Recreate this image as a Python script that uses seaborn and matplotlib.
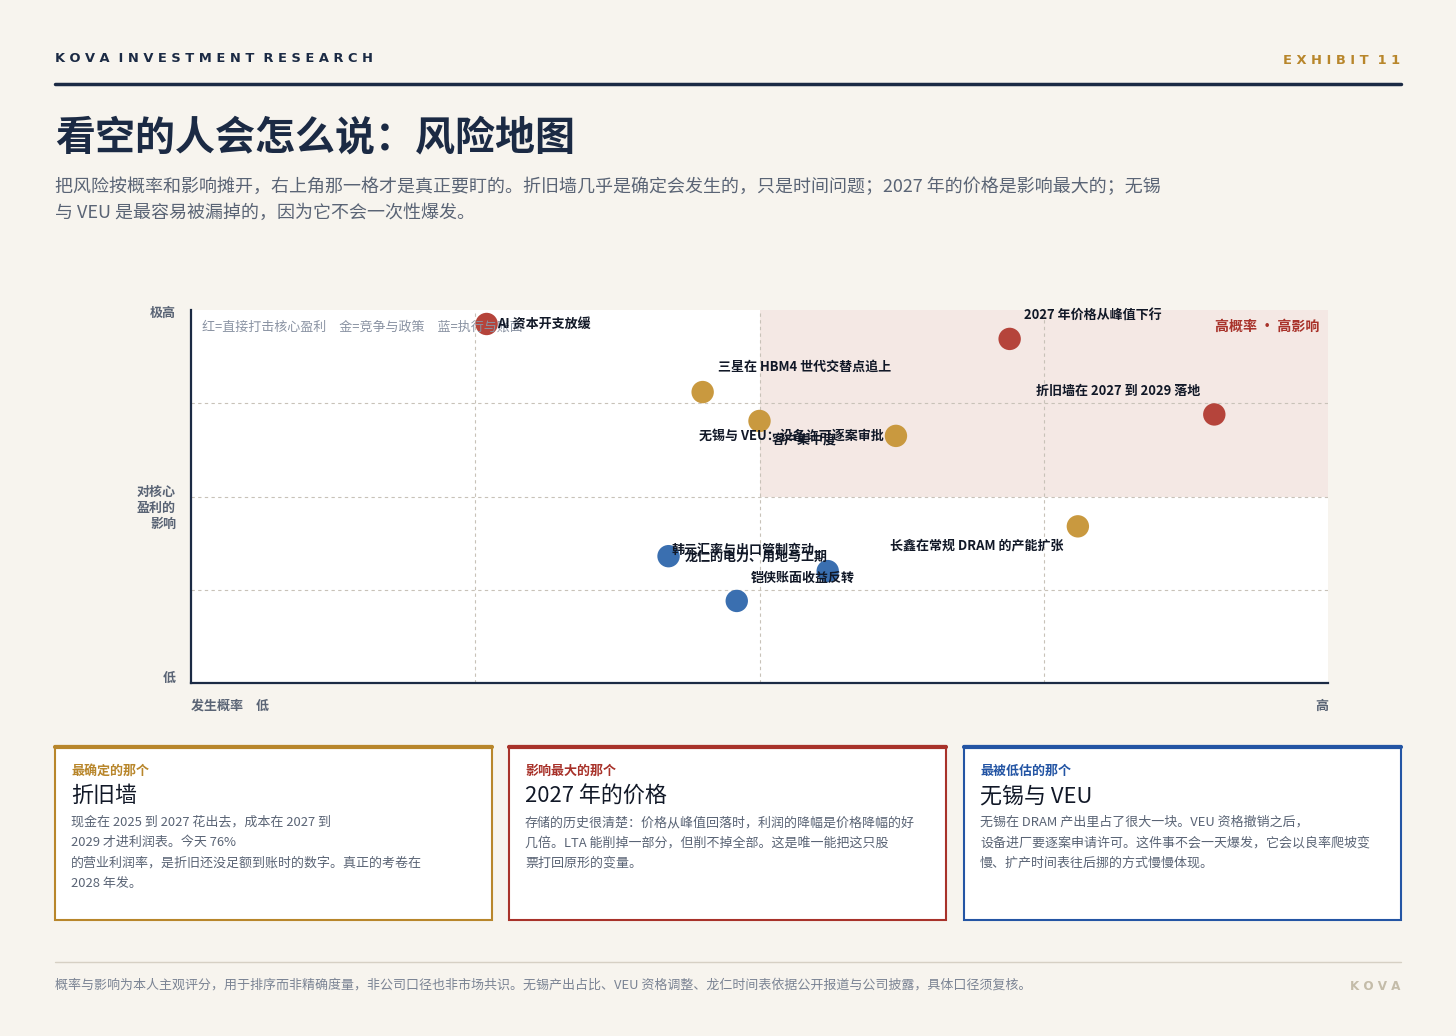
import pandas as pd
import matplotlib.pyplot as plt
import matplotlib.patches as mpatches
import seaborn as sns

# --- data (probability 0-4, impact 0-4) ---
risks = ['AI 资本开支放缓', '2027 年价格从峰值下行', '折旧墙在 2027 到 2029 落地',
         '三星在 HBM4 世代交替点追上', '客户集中度', '无锡与 VEU：设备许可逐案审批',
         '长鑫在常规 DRAM 的产能扩张', '韩元汇率与出口管制变动', '铠侠账面收益反转',
         '龙仁的电力、用地与工期']
probability = [1.04, 2.88, 3.60, 1.80, 2.00, 2.48, 3.12, 1.68, 2.24, 1.92]
impact = [3.85, 3.69, 2.88, 3.12, 2.81, 2.65, 1.68, 1.36, 1.20, 0.88]
group = ['red', 'red', 'red', 'gold', 'gold', 'gold', 'gold', 'blue', 'blue', 'blue']
# label offsets in pixels (dx, dy up), alignment
label_off = [(10, 0, 'left'), (83, 24, 'center'), (-96, 24, 'center'), (102, 25, 'center'),
             (45, -19, 'center'), (-12, 0, 'right'), (-101, -19, 'center'),
             (74, 7, 'center'), (-25, -7, 'center'), (19, 44, 'center')]

BG = '#f7f4ee'
NAVY = '#1b2a44'
GRAY = '#5a6475'
palette = {'red': '#b5443b', 'gold': '#c9993f', 'blue': '#3a6fb0'}

sns.set_theme(style='white')
plt.rcParams['font.family'] = ['Noto Sans CJK SC', 'DejaVu Sans']

W, H = 1456, 1036
fig = plt.figure(figsize=(W / 100, H / 100), dpi=100, facecolor=BG)

def P(x, y):
    return x / W, 1 - y / H

def fs(px):
    return px * 0.72

# header
fig.text(*P(55, 59), '  '.join(' '.join(w) for w in 'KOVA INVESTMENT RESEARCH'.split()),
         fontsize=fs(13), fontweight='bold', color=NAVY, va='center', family='DejaVu Sans')
fig.text(*P(1400, 60), ' '.join('EXHIBIT') + '  1 1', fontsize=fs(13), fontweight='bold',
         color='#b8862b', va='center', ha='right', family='DejaVu Sans')
fig.add_artist(plt.Line2D([55 / W, 1401 / W], [1 - 84 / H] * 2, color=NAVY, lw=2.5))
fig.text(*P(55, 138), '看空的人会怎么说：风险地图', fontsize=fs(40), fontweight='bold',
         color=NAVY, va='center')
fig.text(*P(55, 200), '把风险按概率和影响摊开，右上角那一格才是真正要盯的。折旧墙几乎是确定会发生的，只是时间问题；2027 年的价格是影响最大的；无锡\n与 VEU 是最容易被漏掉的，因为它不会一次性爆发。',
         fontsize=fs(18), color=GRAY, va='center', linespacing=1.55)

# chart
ax = fig.add_axes([191 / W, 1 - 683 / H, 1137 / W, 373 / H])
ax.set_facecolor('white')
ax.set_xlim(0, 4)
ax.set_ylim(0, 4)
ax.add_patch(mpatches.Rectangle((2, 2), 2, 2, color='#f4e8e4', zorder=0, lw=0))
for v in (1, 2, 3):
    ax.axvline(v, color='#c8c2b8', ls=(0, (3, 3)), lw=0.8, zorder=1)
    ax.axhline(v, color='#c8c2b8', ls=(0, (3, 3)), lw=0.8, zorder=1)
df = pd.DataFrame({'risk': risks, 'p': probability, 'i': impact, 'g': group})
sns.scatterplot(data=df, x='p', y='i', hue='g', palette=palette, s=260, edgecolor='none',
                legend=False, ax=ax, zorder=3)
for r, x, y, (dx, dy, ha) in zip(risks, probability, impact, label_off):
    ax.annotate(r, (x, y), xytext=(dx * 0.72, dy * 0.72), textcoords='offset points',
                ha=ha, va='center', fontsize=fs(13), fontweight='bold', color='#111827', zorder=4)
ax.text(0.01, 0.955, '红=直接打击核心盈利　金=竞争与政策　蓝=执行与账面', transform=ax.transAxes,
        fontsize=fs(13), color='#8a93a3', va='center')
ax.text(0.992, 0.955, '高概率 · 高影响', transform=ax.transAxes, fontsize=fs(14),
        fontweight='bold', color='#a8322a', va='center', ha='right')
ax.set_xticks([])
ax.set_yticks([])
ax.set_xlabel('')
ax.set_ylabel('')
sns.despine(ax=ax)
for s in ('left', 'bottom'):
    ax.spines[s].set_color(NAVY)
    ax.spines[s].set_linewidth(1.6)
fig.text(*P(176, 313), '极高', fontsize=fs(13), fontweight='bold', color=GRAY, ha='right', va='center')
fig.text(*P(176, 508), '对核心\n盈利的\n影响', fontsize=fs(13), fontweight='bold', color=GRAY,
         ha='right', va='center', linespacing=1.15)
fig.text(*P(176, 678), '低', fontsize=fs(13), fontweight='bold', color=GRAY, ha='right', va='center')
fig.text(*P(191, 706), '发生概率　低', fontsize=fs(13), fontweight='bold', color=GRAY, va='center')
fig.text(*P(1328, 706), '高', fontsize=fs(13), fontweight='bold', color=GRAY, va='center', ha='right')

# cards
cards = [
    (55, '#b8862b', '最确定的那个', '折旧墙',
     '现金在 2025 到 2027 花出去，成本在 2027 到\n2029 才进利润表。今天 76%\n的营业利润率，是折旧还没足额到账时的数字。真正的考卷在\n2028 年发。'),
    (509, '#a8322a', '影响最大的那个', '2027 年的价格',
     '存储的历史很清楚：价格从峰值回落时，利润的降幅是价格降幅的好\n几倍。LTA 能削掉一部分，但削不掉全部。这是唯一能把这只股\n票打回原形的变量。'),
    (964, '#2455a4', '最被低估的那个', '无锡与 VEU',
     '无锡在 DRAM 产出里占了很大一块。VEU 资格撤销之后，\n设备进厂要逐案申请许可。这件事不会一天爆发，它会以良率爬坡变\n慢、扩产时间表往后挪的方式慢慢体现。'),
]
for x0, col, tag, title, body in cards:
    fig.add_artist(mpatches.Rectangle((x0 / W, 1 - 920 / H), 437 / W, 174 / H, facecolor='white',
                                      edgecolor=col, lw=1.5))
    fig.add_artist(plt.Line2D([x0 / W, (x0 + 437) / W], [1 - 747 / H] * 2, color=col, lw=3))
    fig.text(*P(x0 + 16, 771), tag, fontsize=fs(13), fontweight='bold', color=col, va='center')
    fig.text(*P(x0 + 16, 796), title, fontsize=fs(22), color='#111827', va='center')
    fig.text(*P(x0 + 16, 816), body, fontsize=fs(13), color=GRAY, va='top', linespacing=1.72)

# footer
fig.add_artist(plt.Line2D([55 / W, 1401 / W], [1 - 962 / H] * 2, color='#d6d0c4', lw=1))
fig.text(*P(55, 985), '概率与影响为本人主观评分，用于排序而非精确度量，非公司口径也非市场共识。无锡产出占比、VEU 资格调整、龙仁时间表依据公开报道与公司披露，具体口径须复核。',
         fontsize=fs(13), color='#7b8494', va='center')
fig.text(*P(1400, 987), 'K O V A', fontsize=fs(12), fontweight='bold', color='#c4bca9',
         va='center', ha='right', family='DejaVu Sans')

fig.savefig('out.png', dpi=100, facecolor=BG)
